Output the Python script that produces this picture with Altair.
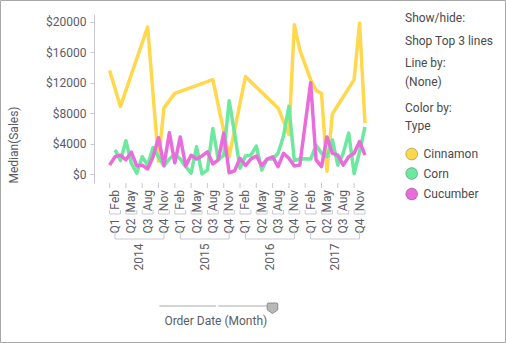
import altair as alt
import pandas as pd

# ---------------- data ----------------
types = ["Cinnamon", "Corn", "Cucumber"]
colors = ["#FFD84D", "#6DE89E", "#E96CDB"]

# month index 0 = Jan 2014 ... 47 = Dec 2017 (months without a value are absent)
cinnamon_m = [0, 2, 7, 9, 10, 12, 19, 22, 25, 31, 33, 34, 35, 37, 38, 39, 40, 41, 45, 46, 47]
cinnamon_v = [13600, 8900, 19300, 1700, 8700, 10600, 12400, 2300, 12800, 8700, 5200,
              19600, 16300, 12400, 11000, 10600, 400, 7900, 12400, 19800, 6700]

corn_m = list(range(1, 48))
corn_v = [3200, 1800, 4400, 1450, 150, 2300, 1200, 3500, 2300, 1100, 2000, 2650, 2000,
          1000, 150, 3600, 50, 550, 6000, 1900, 2500, 9650, 5400, 800, 2400, 2500, 3700,
          550, 2000, 2000, 2750, 5000, 8900, 1800, 2000, 2050, 2000, 3800, 2750, 2300,
          4500, 1200, 2750, 5400, 100, 2950, 6200]

cucumber_m = list(range(0, 36)) + list(range(37, 48))
cucumber_v = [1200, 2300, 2500, 1900, 2900, 1100, 1200, 700, 2300, 4800, 1150, 5450,
              1500, 4900, 1100, 2500, 2000, 2400, 2950, 1350, 1900, 5400, 200, 450,
              2100, 1150, 2000, 2400, 1150, 2000, 2300, 1000, 2750, 2100, 1100, 1200,
              12000, 1900, 1000, 4900, 2750, 2500, 1200, 2300, 2750, 4300, 2500]

years = ["2014", "2015", "2016", "2017"]
quarters = ["Q1", "Q2", "Q3", "Q4"]
mid_months = ["Feb", "May", "Aug", "Nov"]
y_ticks = [0, 4000, 8000, 12000, 16000, 20000]

rows = []
for t, ms, vs in [("Cinnamon", cinnamon_m, cinnamon_v),
                  ("Corn", corn_m, corn_v),
                  ("Cucumber", cucumber_m, cucumber_v)]:
    for m, v in zip(ms, vs):
        rows.append({"Type": t, "m": m, "Sales": v})
df = pd.DataFrame(rows)

qrows = []
for yi in range(len(years)):
    for qi in range(4):
        q0 = yi * 12 + qi * 3
        qrows.append({"mid": q0 + 1, "start": q0, "end": q0 + 2,
                      "month": mid_months[qi], "quarter": quarters[qi]})
qdf = pd.DataFrame(qrows)

ydf = pd.DataFrame({"year": years,
                    "center": [i * 12 + 5.5 for i in range(4)],
                    "first": [i * 12 + 1 for i in range(4)],
                    "last": [i * 12 + 10 for i in range(4)]})

# ---------------- styling ----------------
FONT = "Roboto"
TXT = "#5c5c66"
AXC = "#c8c8d4"
W, H = 288, 169
PADL, PADT, PADR, PADB = 94, 14, 124, 160

xscale = alt.Scale(domain=[-2.87, 50.13], nice=False, zero=False)
yscale = alt.Scale(domain=[-1141, 21009], nice=False, zero=False)
cscale = alt.Scale(domain=types, range=colors)

lines = alt.Chart(df).mark_line(strokeWidth=3.5, strokeJoin="round").encode(
    x=alt.X("m:Q", scale=xscale,
            axis=alt.Axis(labels=False, ticks=False, grid=False, title=None,
                          domainColor=AXC)),
    y=alt.Y("Sales:Q", scale=yscale,
            axis=alt.Axis(values=y_ticks, labelExpr="'$' + datum.value",
                          tickSize=4, labelPadding=4, grid=False, title=None,
                          domainColor=AXC, tickColor=AXC, labelColor=TXT,
                          labelFont=FONT, labelFontSize=12)),
    color=alt.Color("Type:N", scale=cscale, legend=None),
    order=alt.Order("m:Q"),
)

xq = alt.X("mid:Q", scale=xscale, axis=None)

qticks = alt.Chart(qdf).mark_rule(color=AXC, strokeWidth=1).encode(
    x=alt.X("start:Q", scale=xscale, axis=None), y=alt.value(H), y2=alt.value(H + 5))
qbr_h = alt.Chart(qdf).mark_rule(color=AXC, strokeWidth=1).encode(
    x=alt.X("start:Q", scale=xscale, axis=None), x2="end:Q", y=alt.value(200))
qbr_l = alt.Chart(qdf).mark_rule(color=AXC, strokeWidth=1).encode(
    x=alt.X("start:Q", scale=xscale, axis=None), y=alt.value(196), y2=alt.value(200))
qbr_r = alt.Chart(qdf).mark_rule(color=AXC, strokeWidth=1).encode(
    x=alt.X("end:Q", scale=xscale, axis=None), y=alt.value(196), y2=alt.value(200))

month_lbl = alt.Chart(qdf).mark_text(angle=270, align="right", baseline="middle",
                                     font=FONT, fontSize=12, color=TXT).encode(
    x=xq, y=alt.value(176), text="month:N")
quarter_lbl = alt.Chart(qdf).mark_text(angle=270, align="right", baseline="middle",
                                       font=FONT, fontSize=12, color=TXT).encode(
    x=xq, y=alt.value(204.5), text="quarter:N")

ybr_h = alt.Chart(ydf).mark_rule(color=AXC, strokeWidth=1).encode(
    x=alt.X("first:Q", scale=xscale, axis=None), x2="last:Q", y=alt.value(225))
ybr_l = alt.Chart(ydf).mark_rule(color=AXC, strokeWidth=1).encode(
    x=alt.X("first:Q", scale=xscale, axis=None), y=alt.value(216), y2=alt.value(225))
ybr_r = alt.Chart(ydf).mark_rule(color=AXC, strokeWidth=1).encode(
    x=alt.X("last:Q", scale=xscale, axis=None), y=alt.value(216), y2=alt.value(225))
year_lbl = alt.Chart(ydf).mark_text(angle=270, align="right", baseline="middle",
                                    font=FONT, fontSize=12, color=TXT).encode(
    x=alt.X("center:Q", scale=xscale, axis=None), y=alt.value(229.5), text="year:N")

one = pd.DataFrame({"a": [0]})


def label(txt, x, y, align="left", angle=0, color="#4a4a4a", size=12):
    return alt.Chart(one).mark_text(align=align, baseline="middle", font=FONT,
                                    fontSize=size, color=color, angle=angle).encode(
        x=alt.value(x), y=alt.value(y), text=alt.value(txt))


texts = [
    label("Median(Sales)", -80.5, 131, align="center", angle=270, color=TXT),
    label("Show/hide:", 311, 3.7),
    label("Shop Top 3 lines", 311, 26.7),
    label("Line by:", 311, 49.3),
    label("(None)", 311, 67.7),
    label("Color by:", 311, 94.3),
    label("Type", 311, 112),
    label("Order Date (Month)", 121.8, 306.7, align="center", color=TXT),
]

legend_layers = []
for i, t in enumerate(types):
    yy = [140, 159.5, 180][i]
    legend_layers.append(
        alt.Chart(pd.DataFrame({"Type": [t]})).mark_circle(
            size=140, opacity=1, stroke="#000", strokeOpacity=0.25, strokeWidth=1).encode(
            x=alt.value(317.7), y=alt.value(yy),
            color=alt.Color("Type:N", scale=cscale, legend=None)))
    legend_layers.append(label(t, 329.5, yy))

# slider decoration
slider = [
    alt.Chart(one).mark_rule(color="#aaaaaa", strokeWidth=1).encode(
        x=alt.value(65.3), x2=alt.value(122), y=alt.value(292)),
    alt.Chart(one).mark_rule(color="#aaaaaa", strokeWidth=1).encode(
        x=alt.value(124.3), x2=alt.value(176), y=alt.value(292)),
    alt.Chart(one).mark_point(
        shape="M-0.8,-1L0.8,-1Q1,-1 1,-0.8L1,0.3L0,1L-1,0.3L-1,-0.8Q-1,-1 -0.8,-1Z",
        size=110, filled=True, fill="#b8b8b8", stroke="#8a8a8a", strokeWidth=1,
        opacity=1).encode(x=alt.value(178.5), y=alt.value(294.3)),
]

border = alt.Chart(one).mark_rect(fill=None, stroke="#a8a8a8", strokeWidth=1).encode(
    x=alt.value(-PADL + 0.5), x2=alt.value(W + PADR - 0.5),
    y=alt.value(-PADT + 0.5), y2=alt.value(H + PADB - 0.5))

chart = alt.layer(
    lines, qticks, qbr_h, qbr_l, qbr_r, month_lbl, quarter_lbl,
    ybr_h, ybr_l, ybr_r, year_lbl, *texts, *legend_layers, *slider, border
).properties(
    width=W, height=H,
    autosize=alt.AutoSizeParams(type="none"),
    padding={"left": PADL, "top": PADT, "right": PADR, "bottom": PADB},
    background="white",
).configure_view(stroke=None)

chart.save("out.html", embed_options={"renderer": "svg", "actions": False})
